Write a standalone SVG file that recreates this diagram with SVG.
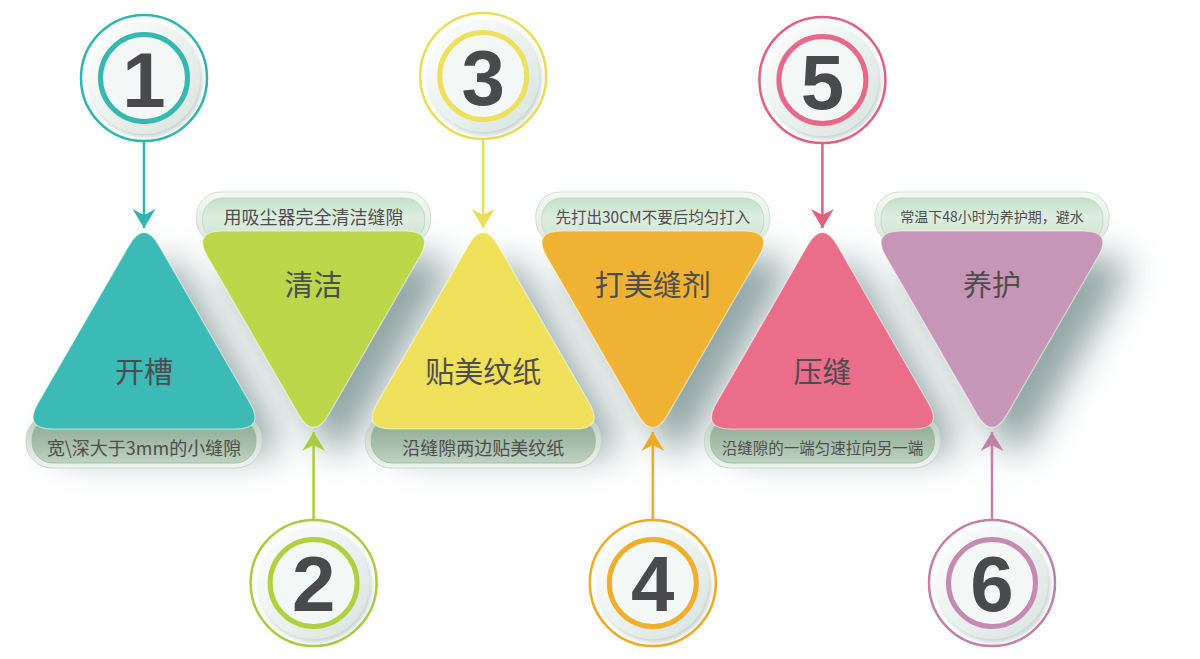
<svg xmlns="http://www.w3.org/2000/svg" xmlns:xlink="http://www.w3.org/1999/xlink" width="1200" height="659" viewBox="0 0 1200 659">
<defs>
<style>
.cjk{font-family:"Noto Sans CJK SC","Noto Sans",sans-serif;fill:#4d4d4d;text-anchor:middle;dominant-baseline:central}
.tl{font-size:29px}
.num{font-family:"Liberation Sans",Arial,sans-serif;font-weight:bold;font-size:78px;fill:#4a4a4d;text-anchor:middle}
.tri{stroke:#ffffff;stroke-opacity:0.55;stroke-width:1.2}
.pillo-t{fill:url(#gOutT);stroke:#cddfd0;stroke-width:1}
.pilli-t{fill:url(#gInT);stroke:#b9d7be;stroke-width:0.8}
.pillo-b{fill:url(#gOutB);stroke:#c6d6c9;stroke-width:1}
.pilli-b{fill:url(#gInB);stroke:#9ab8a0;stroke-width:0.8}
.disc{fill:url(#gDisc);filter:url(#fDisc)}
.inner{fill:#f3f7f6;stroke-width:5}
.outer{fill:#ffffff;stroke-width:2.5}
.conn{stroke-width:2.5;fill:none}
</style>
<linearGradient id="gOutT" x1="0" y1="0" x2="0" y2="1"><stop offset="0" stop-color="#f3f8f4"/><stop offset="1" stop-color="#dbe9dd"/></linearGradient>
<linearGradient id="gInT" x1="0" y1="0" x2="0" y2="1"><stop offset="0" stop-color="#c4e0c8"/><stop offset="0.45" stop-color="#deede0"/><stop offset="1" stop-color="#cde4d0"/></linearGradient>
<linearGradient id="gOutB" x1="0" y1="0" x2="0" y2="1"><stop offset="0" stop-color="#b9cbbc"/><stop offset="1" stop-color="#eef4ef"/></linearGradient>
<linearGradient id="gInB" x1="0" y1="0" x2="0" y2="1"><stop offset="0" stop-color="#8aa891"/><stop offset="0.6" stop-color="#a6bfaa"/><stop offset="1" stop-color="#bfd3c1"/></linearGradient>
<linearGradient id="gDisc" x1="0" y1="0" x2="1" y2="1"><stop offset="0" stop-color="#ffffff"/><stop offset="1" stop-color="#d7e3de"/></linearGradient>
<filter id="fShadow" x="-40%" y="-40%" width="180%" height="180%"><feGaussianBlur stdDeviation="18"/></filter>
<filter id="fDisc" x="-20%" y="-20%" width="140%" height="140%"><feDropShadow dx="2" dy="3" stdDeviation="2.5" flood-color="#8aa39c" flood-opacity="0.5"/></filter>
<path id="triUp" d="M-15,245.4 Q0,219.4 15,245.4 L106,403 Q121,429 91,429 L-91,429 Q-121,429 -106,403 Z"/>
<path id="triDn" d="M-15,414.6 Q0,440.6 15,414.6 L106,257 Q121,231 91,231 L-91,231 Q-121,231 -106,257 Z"/>
<marker id="m1" markerUnits="userSpaceOnUse" markerWidth="24" markerHeight="24" viewBox="-20 -12 21 24" refX="0" refY="0" orient="auto"><path d="M0,0 L-19,-11.5 L-13,0 L-19,11.5 Z" fill="#2fb5ad"/></marker>
<marker id="m2" markerUnits="userSpaceOnUse" markerWidth="24" markerHeight="24" viewBox="-20 -12 21 24" refX="0" refY="0" orient="auto"><path d="M0,0 L-19,-11.5 L-13,0 L-19,11.5 Z" fill="#a8cc3c"/></marker>
<marker id="m3" markerUnits="userSpaceOnUse" markerWidth="24" markerHeight="24" viewBox="-20 -12 21 24" refX="0" refY="0" orient="auto"><path d="M0,0 L-19,-11.5 L-13,0 L-19,11.5 Z" fill="#eadd55"/></marker>
<marker id="m4" markerUnits="userSpaceOnUse" markerWidth="24" markerHeight="24" viewBox="-20 -12 21 24" refX="0" refY="0" orient="auto"><path d="M0,0 L-19,-11.5 L-13,0 L-19,11.5 Z" fill="#eeaa22"/></marker>
<marker id="m5" markerUnits="userSpaceOnUse" markerWidth="24" markerHeight="24" viewBox="-20 -12 21 24" refX="0" refY="0" orient="auto"><path d="M0,0 L-19,-11.5 L-13,0 L-19,11.5 Z" fill="#e0607e"/></marker>
<marker id="m6" markerUnits="userSpaceOnUse" markerWidth="24" markerHeight="24" viewBox="-20 -12 21 24" refX="0" refY="0" orient="auto"><path d="M0,0 L-19,-11.5 L-13,0 L-19,11.5 Z" fill="#c080a8"/></marker>
</defs>
<rect width="1200" height="659" fill="#ffffff"/>

<g id="shadows" fill="#5f7c7a" opacity="0.68" filter="url(#fShadow)">
<use href="#triUp" transform="translate(168,26)"/>
<use href="#triDn" transform="translate(338,26)"/>
<use href="#triUp" transform="translate(507,26)"/>
<use href="#triDn" transform="translate(677,26)"/>
<use href="#triUp" transform="translate(846,26)"/>
<use href="#triDn" transform="translate(1016,26)"/>
</g>

<g id="step1">
<rect class="pillo-b" x="26" y="414" width="236" height="54" rx="26"/>
<rect class="pilli-b" x="32" y="418" width="224" height="45" rx="21"/>
<text class="cjk" x="144" y="447" font-size="18">宽\深大于3mm的小缝隙</text>
<use class="tri" href="#triUp" transform="translate(144,0)" fill="#3bbab6"/>
<text class="cjk tl" x="144" y="370">开槽</text>
</g>
<g id="step2">
<rect class="pillo-t" x="196.6" y="192" width="234" height="52" rx="24"/>
<rect class="pilli-t" x="202.6" y="198" width="222" height="44" rx="20"/>
<text class="cjk" x="313.6" y="216" font-size="18">用吸尘器完全清洁缝隙</text>
<use class="tri" href="#triDn" transform="translate(313.6,0)" fill="#bcd64a"/>
<text class="cjk tl" x="313.6" y="283">清洁</text>
</g>
<g id="step3">
<rect class="pillo-b" x="365.2" y="414" width="236" height="54" rx="26"/>
<rect class="pilli-b" x="371.2" y="418" width="224" height="45" rx="21"/>
<text class="cjk" x="483.2" y="447" font-size="18">沿缝隙两边贴美纹纸</text>
<use class="tri" href="#triUp" transform="translate(483.2,0)" fill="#efe05c"/>
<text class="cjk tl" x="483.2" y="370">贴美纹纸</text>
</g>
<g id="step4">
<rect class="pillo-t" x="535.8" y="192" width="234" height="52" rx="24"/>
<rect class="pilli-t" x="541.8" y="198" width="222" height="44" rx="20"/>
<text class="cjk" x="652.8" y="216" font-size="15.5">先打出30CM不要后均匀打入</text>
<use class="tri" href="#triDn" transform="translate(652.8,0)" fill="#f0b232"/>
<text class="cjk tl" x="652.8" y="283">打美缝剂</text>
</g>
<g id="step5">
<rect class="pillo-b" x="704.4" y="414" width="236" height="54" rx="26"/>
<rect class="pilli-b" x="710.4" y="418" width="224" height="45" rx="21"/>
<text class="cjk" x="822.4" y="447" font-size="15.5">沿缝隙的一端匀速拉向另一端</text>
<use class="tri" href="#triUp" transform="translate(822.4,0)" fill="#ea6d8a"/>
<text class="cjk tl" x="822.4" y="370">压缝</text>
</g>
<g id="step6">
<rect class="pillo-t" x="875" y="192" width="234" height="52" rx="24"/>
<rect class="pilli-t" x="881" y="198" width="222" height="44" rx="20"/>
<text class="cjk" x="992" y="216" font-size="14">常温下48小时为养护期，避水</text>
<use class="tri" href="#triDn" transform="translate(992,0)" fill="#c696b8"/>
<text class="cjk tl" x="992" y="283">养护</text>
</g>

<g id="connectors">
<line class="conn" x1="144" y1="141" x2="144" y2="228" stroke="#2fb5ad" marker-end="url(#m1)"/>
<line class="conn" x1="313.6" y1="520" x2="313.6" y2="432" stroke="#a8cc3c" marker-end="url(#m2)"/>
<line class="conn" x1="483.2" y1="139" x2="483.2" y2="228" stroke="#eadd55" marker-end="url(#m3)"/>
<line class="conn" x1="652.8" y1="520" x2="652.8" y2="432" stroke="#eeaa22" marker-end="url(#m4)"/>
<line class="conn" x1="822.4" y1="143" x2="822.4" y2="228" stroke="#e0607e" marker-end="url(#m5)"/>
<line class="conn" x1="992" y1="520" x2="992" y2="432" stroke="#c080a8" marker-end="url(#m6)"/>
</g>

<g id="circle1">
<circle class="outer" cx="144" cy="78" r="63" stroke="#2fb5ad"/>
<circle class="disc" cx="144" cy="78" r="56"/>
<circle class="inner" cx="144" cy="78" r="43.5" stroke="#35b8b0"/>
<text class="num" x="144" y="107">1</text>
</g>
<g id="circle2">
<circle class="outer" cx="313.6" cy="583" r="63" stroke="#a8cc3c"/>
<circle class="disc" cx="313.6" cy="583" r="56"/>
<circle class="inner" cx="313.6" cy="583" r="43.5" stroke="#b0d040"/>
<text class="num" x="313.6" y="611">2</text>
</g>
<g id="circle3">
<circle class="outer" cx="483.2" cy="76" r="63" stroke="#eadd55"/>
<circle class="disc" cx="483.2" cy="76" r="56"/>
<circle class="inner" cx="483.2" cy="76" r="43.5" stroke="#eee05a"/>
<text class="num" x="483.2" y="105">3</text>
</g>
<g id="circle4">
<circle class="outer" cx="652.8" cy="583" r="63" stroke="#eeaa22"/>
<circle class="disc" cx="652.8" cy="583" r="56"/>
<circle class="inner" cx="652.8" cy="583" r="43.5" stroke="#f0ae2c"/>
<text class="num" x="652.8" y="611">4</text>
</g>
<g id="circle5">
<circle class="outer" cx="822.4" cy="80" r="63" stroke="#e0607e"/>
<circle class="disc" cx="822.4" cy="80" r="56"/>
<circle class="inner" cx="822.4" cy="80" r="43.5" stroke="#e8688a"/>
<text class="num" x="822.4" y="109">5</text>
</g>
<g id="circle6">
<circle class="outer" cx="992" cy="583" r="63" stroke="#c080a8"/>
<circle class="disc" cx="992" cy="583" r="56"/>
<circle class="inner" cx="992" cy="583" r="43.5" stroke="#c48ab0"/>
<text class="num" x="992" y="611">6</text>
</g>
</svg>
